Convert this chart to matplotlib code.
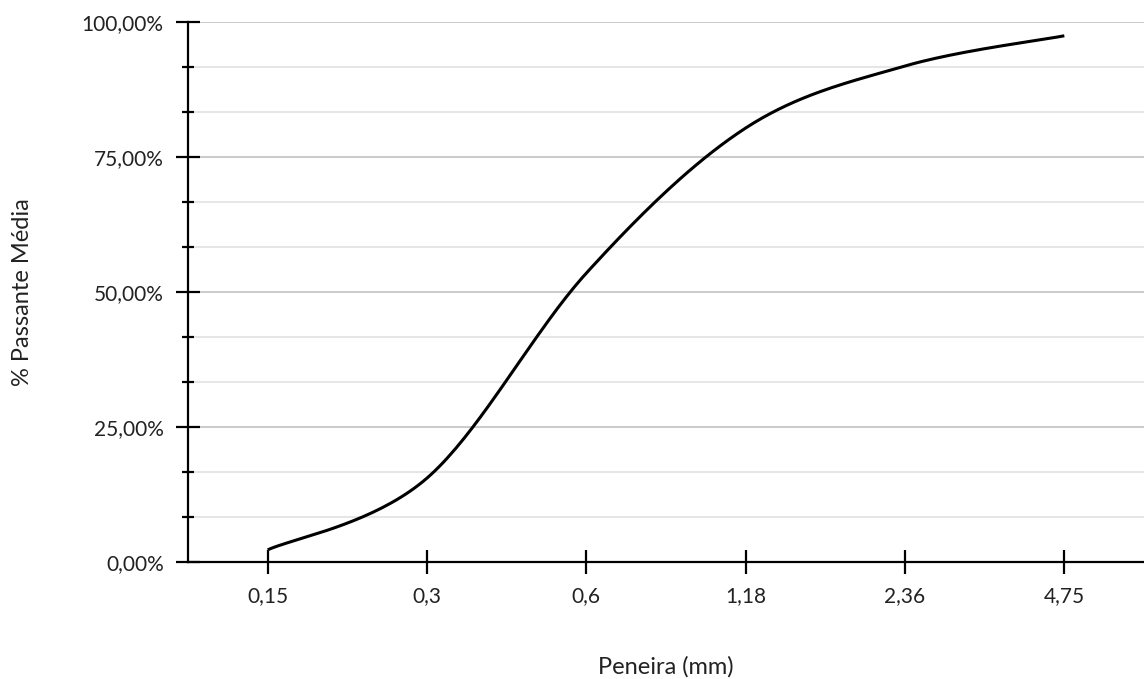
import matplotlib
matplotlib.use("Agg")
import matplotlib.pyplot as plt
from matplotlib.ticker import FixedLocator, FuncFormatter
import numpy as np

# peneiras (mm) e % passante media
peneiras = ["0,15", "0,3", "0,6", "1,18", "2,36", "4,75"]
passante = [2.2, 15.5, 53.5, 80.4, 91.9, 97.5]

plt.rcParams['font.family'] = ['Lato', 'DejaVu Sans']


def suaviza(x, y, n=40):
    # curva suavizada tipo Excel (bezier catmull-rom)
    x = np.asarray(x, float)
    y = np.asarray(y, float)
    px = np.concatenate([[x[0]], x, [x[-1]]])
    py = np.concatenate([[y[0]], y, [y[-1]]])
    xs, ys = [], []
    t = np.linspace(0, 1, n)
    for i in range(len(x) - 1):
        p0 = np.array([px[i + 1], py[i + 1]])
        p3 = np.array([px[i + 2], py[i + 2]])
        c1 = p0 + (np.array([px[i + 2], py[i + 2]]) - np.array([px[i], py[i]])) / 6
        c2 = p3 - (np.array([px[i + 3], py[i + 3]]) - np.array([px[i + 1], py[i + 1]])) / 6
        b = ((1 - t) ** 3)[:, None] * p0 + (3 * (1 - t) ** 2 * t)[:, None] * c1 \
            + (3 * (1 - t) * t ** 2)[:, None] * c2 + (t ** 3)[:, None] * p3
        xs.append(b[:, 0])
        ys.append(b[:, 1])
    return np.concatenate(xs), np.concatenate(ys)


fig = plt.figure(figsize=(11.44, 6.79), dpi=100)
ax = fig.add_axes([188 / 1144, (679 - 561.7) / 679, (1144 - 188) / 1144, (561.7 - 22.3) / 679])

xi = np.arange(len(peneiras))
sx, sy = suaviza(xi, passante)
ax.plot(sx, sy, color='black', lw=2.2, solid_capstyle='butt', zorder=3)

ax.set_xlim(-0.5, len(peneiras) - 0.5)
ax.set_ylim(0, 100)

ax.xaxis.set_major_locator(FixedLocator(xi))
ax.set_xticklabels(peneiras)
ax.yaxis.set_major_locator(FixedLocator([0, 25, 50, 75, 100]))
ax.yaxis.set_minor_locator(FixedLocator([100 / 12 * k for k in range(13) if k % 3]))
ax.yaxis.set_major_formatter(FuncFormatter(lambda v, p: f"{v:.2f}".replace('.', ',') + "%"))

ax.grid(axis='y', which='major', color='#c6c6c6', lw=1.3, zorder=0)
ax.grid(axis='y', which='minor', color='#e4e4e4', lw=1.3, zorder=0)

for s in ['top', 'right']:
    ax.spines[s].set_visible(False)
for s in ['left', 'bottom']:
    ax.spines[s].set_linewidth(1.6)
    ax.spines[s].set_color('black')

ax.tick_params(axis='both', which='major', direction='inout', length=17, width=1.6,
               labelsize=15, colors='black', labelcolor='#222222', pad=9)
ax.tick_params(axis='y', which='minor', direction='inout', length=8.5, width=1.6)
ax.tick_params(axis='x', which='minor', length=0)

ax.set_xlabel("Peneira (mm)", fontsize=17, color='#222222', va='center')
ax.set_ylabel("% Passante Média", fontsize=17, color='#222222', va='center')
ax.xaxis.set_label_coords(0.5, (561.7 - 667) / 539.4)
ax.yaxis.set_label_coords((23 - 188) / 956, 0.5)

fig.savefig("out.png", dpi=100)
